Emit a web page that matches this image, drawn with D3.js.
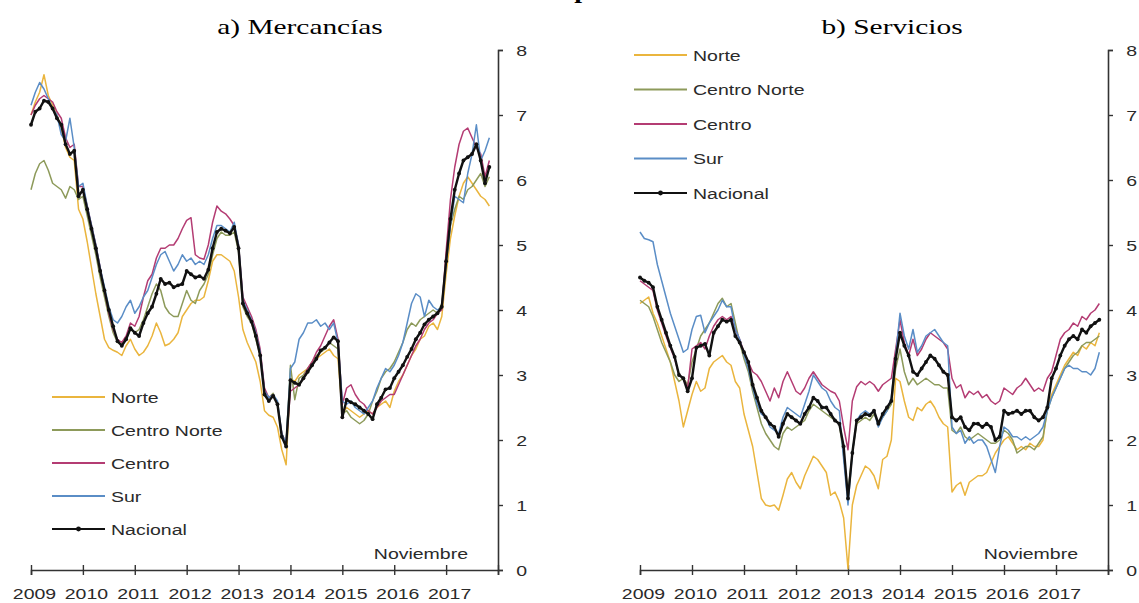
<!DOCTYPE html>
<html><head><meta charset="utf-8">
<script src="https://cdn.jsdelivr.net/npm/d3@7"></script>
<style>body{margin:0;background:#fff}</style>
</head><body>
<svg id="c" width="1139" height="603"></svg>
<script>
// ---------- data ----------
const chartTitle = "Cifras en por ciento";
const panelTitles = ["a) Mercancías", "b) Servicios"];
const noteText = "Noviembre";
const startYear = 2009;
const yearLabels = ["2009","2010","2011","2012","2013","2014","2015","2016","2017"];
const yTicks = [0,1,2,3,4,5,6,7,8];
const seriesNames = ["Norte","Centro Norte","Centro","Sur","Nacional"];

// a) Mercancías, monthly Jan 2009 - Nov 2017
const mercNorte = [
7.00,7.20,7.35,7.62,7.30,7.15,7.00,6.80,6.50,6.35,6.30,5.55,
5.40,5.05,4.65,4.25,3.90,3.55,3.42,3.38,3.35,3.30,3.45,3.55,
3.40,3.30,3.35,3.45,3.60,3.80,3.65,3.45,3.48,3.55,3.65,3.90,
4.00,4.10,4.15,4.15,4.20,4.45,4.75,4.85,4.85,4.80,4.75,4.60,
4.20,3.70,3.50,3.35,3.20,2.90,2.45,2.38,2.35,2.20,1.85,1.62,
2.95,2.90,3.00,3.05,3.10,3.15,3.25,3.30,3.35,3.40,3.30,3.25,
2.40,2.50,2.45,2.40,2.35,2.40,2.45,2.40,2.50,2.55,2.60,2.50,
2.75,2.90,3.00,3.15,3.30,3.40,3.55,3.60,3.75,3.80,3.70,3.90,
4.55,5.10,5.45,5.75,5.95,6.05,5.95,5.85,5.75,5.70,5.60];
const mercCentroNorte = [
5.85,6.10,6.25,6.30,6.15,5.95,5.90,5.85,5.72,5.90,5.85,5.70,
5.75,5.45,5.15,4.85,4.50,4.20,3.90,3.65,3.50,3.48,3.55,3.70,
3.65,3.70,3.85,4.05,4.25,4.40,4.30,4.05,3.95,3.90,3.90,4.10,
4.30,4.15,4.10,4.30,4.40,4.55,4.85,5.10,5.20,5.15,5.15,5.20,
4.90,4.05,3.90,3.80,3.55,3.30,2.75,2.65,2.72,2.55,2.05,1.92,
3.15,2.62,2.95,3.00,3.10,3.20,3.30,3.35,3.40,3.50,3.45,3.40,
2.40,2.45,2.35,2.30,2.25,2.30,2.40,2.60,2.75,2.95,3.05,3.10,
3.20,3.35,3.50,3.70,3.80,3.75,3.85,3.90,3.95,4.00,3.95,4.10,
4.75,5.30,5.55,5.75,5.70,5.85,5.90,6.00,6.10,5.90,6.05];
const mercCentro = [
7.00,7.15,7.25,7.30,7.25,7.20,7.05,6.95,6.65,6.50,6.55,5.90,
5.90,5.60,5.30,5.00,4.65,4.30,3.95,3.70,3.55,3.50,3.60,3.80,
3.75,3.90,4.20,4.45,4.55,4.80,4.95,4.95,5.00,5.00,5.10,5.25,
5.38,5.42,4.85,4.80,4.78,5.00,5.35,5.60,5.52,5.48,5.40,5.30,
5.00,4.20,4.05,3.90,3.70,3.40,2.80,2.65,2.70,2.55,2.10,1.95,
2.75,2.80,2.85,2.95,3.10,3.20,3.35,3.45,3.60,3.75,3.85,3.55,
2.55,2.80,2.85,2.70,2.60,2.55,2.45,2.40,2.50,2.60,2.65,2.70,
2.70,2.85,3.00,3.15,3.30,3.45,3.55,3.70,3.80,3.85,3.95,4.00,
4.90,5.70,6.20,6.55,6.75,6.80,6.65,6.50,6.40,6.05,6.30];
const mercSur = [
7.15,7.35,7.50,7.40,7.25,7.10,7.00,6.70,6.60,6.95,6.50,5.90,
5.95,5.60,5.30,5.00,4.65,4.35,4.05,3.85,3.80,3.90,4.05,4.15,
3.95,4.05,4.20,4.30,4.50,4.70,4.85,4.90,4.75,4.60,4.70,4.85,
4.75,4.80,4.70,4.75,4.70,4.85,5.10,5.30,5.30,5.25,5.20,5.35,
5.00,4.15,4.00,3.85,3.65,3.35,2.75,2.65,2.70,2.60,2.10,1.95,
3.10,3.20,3.55,3.65,3.80,3.80,3.85,3.75,3.80,3.70,3.80,3.50,
2.60,2.55,2.60,2.50,2.45,2.40,2.50,2.60,2.80,2.95,3.10,3.05,
3.15,3.30,3.50,3.80,4.10,4.25,4.20,3.90,4.15,4.05,4.00,4.05,
4.70,5.30,5.75,5.70,5.65,6.10,6.40,6.85,6.30,6.45,6.65];
const mercNacional = [
6.85,7.05,7.10,7.22,7.20,7.10,6.95,6.85,6.55,6.40,6.45,5.75,
5.85,5.55,5.25,4.95,4.60,4.30,4.00,3.75,3.52,3.45,3.55,3.72,
3.65,3.60,3.80,3.95,4.05,4.25,4.48,4.40,4.42,4.35,4.38,4.40,
4.60,4.55,4.50,4.52,4.48,4.62,4.95,5.20,5.25,5.22,5.18,5.28,
4.95,4.10,3.95,3.82,3.60,3.30,2.70,2.60,2.68,2.55,2.05,1.90,
2.92,2.88,2.85,2.95,3.05,3.15,3.25,3.38,3.42,3.50,3.58,3.52,
2.35,2.62,2.58,2.55,2.50,2.45,2.40,2.32,2.55,2.65,2.78,2.80,
2.95,3.05,3.15,3.28,3.40,3.55,3.65,3.78,3.85,3.90,3.95,4.05,
4.75,5.40,5.85,6.10,6.30,6.35,6.40,6.55,6.30,5.95,6.20];

// b) Servicios, monthly Jan 2009 - Nov 2017
const servNorte = [
4.10,4.15,4.20,3.95,3.80,3.60,3.40,3.20,2.90,2.60,2.20,2.45,
2.70,2.90,2.75,2.80,3.10,3.20,3.25,3.30,3.20,3.15,2.90,2.80,
2.40,2.15,1.90,1.50,1.10,1.00,0.98,1.00,0.92,1.15,1.40,1.50,
1.35,1.25,1.45,1.60,1.75,1.70,1.60,1.50,1.15,1.20,1.05,0.80,
0.02,1.00,1.30,1.45,1.60,1.55,1.45,1.25,1.70,1.75,2.00,2.95,
2.90,2.60,2.35,2.30,2.50,2.45,2.55,2.60,2.50,2.35,2.25,2.20,
1.20,1.30,1.35,1.15,1.35,1.40,1.45,1.45,1.50,1.65,1.80,1.90,
2.00,2.05,1.95,1.85,1.90,1.85,1.95,1.90,1.90,2.00,2.50,2.70,
2.85,3.00,3.15,3.25,3.35,3.30,3.45,3.40,3.50,3.45,3.65];
const servCentroNorte = [
4.15,4.10,4.05,3.90,3.70,3.50,3.35,3.20,3.00,2.90,2.95,2.85,
3.20,3.40,3.60,3.70,3.80,3.95,4.10,4.18,4.05,4.10,3.80,3.50,
3.25,3.05,2.75,2.50,2.25,2.10,2.00,1.90,1.85,2.10,2.20,2.15,
2.20,2.25,2.30,2.45,2.55,2.50,2.45,2.40,2.35,2.30,2.25,1.75,
1.20,1.80,2.25,2.30,2.35,2.30,2.40,2.25,2.35,2.45,2.55,3.10,
3.40,3.05,2.85,2.95,2.85,2.90,2.95,2.90,2.85,2.85,2.80,2.80,
2.15,2.10,2.20,2.05,2.00,2.05,2.10,2.05,2.00,1.95,1.95,2.00,
2.15,2.10,2.00,1.80,1.85,1.90,1.90,1.85,1.95,2.05,2.45,2.65,
2.80,2.95,3.10,3.20,3.30,3.35,3.45,3.50,3.50,3.55,3.60];
const servCentro = [
4.45,4.40,4.35,4.30,4.00,3.80,3.60,3.42,3.25,3.00,2.95,2.80,
3.40,3.45,3.50,3.40,3.60,3.75,3.85,3.90,3.85,3.90,3.70,3.55,
3.35,3.20,3.05,3.00,2.90,2.75,2.60,2.80,2.65,2.90,3.05,2.90,
2.75,2.70,2.80,2.95,3.05,2.95,2.85,2.80,2.75,2.72,2.60,2.20,
1.85,2.60,2.82,2.90,2.85,2.90,2.85,2.75,2.85,2.90,2.95,3.40,
3.85,3.50,3.30,3.55,3.30,3.40,3.55,3.65,3.60,3.55,3.50,3.40,
2.95,2.80,2.85,2.65,2.75,2.70,2.75,2.65,2.70,2.60,2.55,2.60,
2.80,2.75,2.70,2.80,2.85,2.95,2.85,2.75,2.80,2.75,2.95,3.05,
3.30,3.55,3.65,3.70,3.80,3.75,3.90,3.85,3.95,4.00,4.10];
const servSur = [
5.20,5.10,5.08,5.05,4.70,4.45,4.20,3.95,3.75,3.55,3.35,3.40,
3.70,3.90,3.92,3.65,3.80,3.90,4.00,4.15,4.05,4.05,3.70,3.55,
3.30,3.10,2.80,2.55,2.40,2.35,2.20,2.15,2.10,2.35,2.50,2.45,
2.40,2.35,2.55,2.75,3.00,2.90,2.80,2.75,2.60,2.50,2.45,1.70,
1.00,1.80,2.30,2.40,2.45,2.40,2.45,2.20,2.35,2.45,2.65,3.30,
3.95,3.60,3.40,3.70,3.35,3.45,3.60,3.65,3.70,3.60,3.50,3.45,
2.20,2.10,2.15,1.95,2.05,1.95,2.00,2.00,1.90,1.70,1.50,1.90,
2.20,2.15,2.05,2.05,2.00,2.05,2.00,2.05,2.10,2.20,2.45,2.65,
2.80,2.95,3.10,3.15,3.10,3.10,3.05,3.05,3.00,3.10,3.35];
const servNacional = [
4.50,4.45,4.42,4.35,4.05,3.85,3.65,3.45,3.28,3.00,2.95,2.75,
2.95,3.42,3.45,3.48,3.30,3.65,3.75,3.85,3.82,3.85,3.60,3.50,
3.35,3.20,2.85,2.65,2.45,2.35,2.25,2.20,2.05,2.25,2.40,2.35,
2.30,2.25,2.40,2.50,2.65,2.60,2.50,2.50,2.40,2.30,2.25,1.90,
1.10,1.80,2.30,2.35,2.40,2.38,2.45,2.25,2.40,2.50,2.60,3.25,
3.65,3.45,3.30,3.05,3.00,3.10,3.20,3.30,3.25,3.15,3.05,3.00,
2.35,2.30,2.35,2.20,2.15,2.25,2.25,2.20,2.25,2.20,2.00,2.05,
2.45,2.40,2.42,2.45,2.40,2.45,2.45,2.35,2.30,2.35,2.50,2.95,
3.10,3.30,3.45,3.55,3.60,3.55,3.70,3.65,3.75,3.80,3.85];

const mercSeries = [mercNorte, mercCentroNorte, mercCentro, mercSur, mercNacional];
const servSeries = [servNorte, servCentroNorte, servCentro, servSur, servNacional];

// ---------- styling ----------
const colors = ["#EAB53E", "#8D9A5A", "#B43C73", "#5A8DC6", "#111111"];
const SANS = "'Liberation Sans', Arial, sans-serif";
const SERIF = "'Liberation Serif', 'Times New Roman', serif";
const SX = 1.3;       // horizontal stretch of sans text in the reference
const SXT = 1.4;      // horizontal stretch of serif titles

const svg = d3.select("#c");

function stretchedText(g, x, y, str, o) {
  return g.append("text")
    .attr("transform", `translate(${x},${y}) scale(${o.sx},1)`)
    .attr("text-anchor", o.anchor || "start")
    .attr("font-family", o.family)
    .attr("font-size", o.size)
    .attr("font-weight", o.weight || "normal")
    .attr("fill", o.fill || "#000")
    .text(str);
}

// overall title (only its lower edge shows at the top of the reference)
stretchedText(svg, 576, -2.5, chartTitle, {sx: SXT, anchor: "middle", family: SERIF, size: 20, weight: "bold"});

const panels = [
  {series: mercSeries, title: panelTitles[0], titleX: 300, left: 31, right: 498,
   legX: 52, legY: 397, legDy: 33},
  {series: servSeries, title: panelTitles[1], titleX: 892, left: 640, right: 1108,
   legX: 634, legY: 55, legDy: 34.5}
];
const plotTop = 50, plotBottom = 570;
const nMonthsAxis = yearLabels.length * 12;

panels.forEach(p => {
  const g = svg.append("g");
  const x = d3.scaleLinear().domain([0, nMonthsAxis]).range([p.left, p.right]);
  const y = d3.scaleLinear().domain([0, 8]).range([plotBottom, plotTop]);

  // panel title
  stretchedText(g, p.titleX, 34, p.title, {sx: SXT, anchor: "middle", family: SERIF, size: 21});

  // x axis
  const tickVals = d3.range(0, nMonthsAxis + 1, 12);
  const xAxis = d3.axisBottom(x).tickValues(tickVals)
    .tickSize(5)
    .tickFormat((d, i) => yearLabels[i] || "");
  const xg = g.append("g").attr("transform", `translate(0,${plotBottom})`).call(xAxis);
  xg.select(".domain").attr("stroke", "#333").attr("stroke-width", 1.6);
  xg.selectAll(".tick line").attr("y1", -5).attr("y2", 5).attr("stroke", "#333").attr("stroke-width", 1.4);
  xg.selectAll(".tick text")
    .attr("y", 29).attr("dy", 0).attr("x", 3 / SX)
    .attr("transform", `scale(${SX},1)`)
    .attr("font-family", SANS).attr("font-size", 15).attr("fill", "#2a2a2a");

  // y axis on the right
  const yAxis = d3.axisRight(y).tickValues(yTicks).tickSize(5).tickFormat(d3.format("d"));
  const yg = g.append("g").attr("transform", `translate(${p.right},0)`).call(yAxis);
  yg.select(".domain").attr("stroke", "#333").attr("stroke-width", 1.6);
  yg.selectAll(".tick line").attr("stroke", "#333").attr("stroke-width", 1.4);
  yg.selectAll(".tick text")
    .attr("x", 14).attr("dy", "0.36em")
    .attr("transform", `scale(${SX},1)`)
    .attr("font-family", SANS).attr("font-size", 15).attr("fill", "#2a2a2a");

  // lines
  const line = d3.line().x((d, i) => x(i)).y(d => y(d));
  p.series.forEach((vals, k) => {
    const isNat = k === 4;
    g.append("path").datum(vals)
      .attr("fill", "none")
      .attr("stroke", colors[k])
      .attr("stroke-width", isNat ? 2.4 : 1.5)
      .attr("stroke-linejoin", "round")
      .attr("d", line);
    if (isNat) {
      g.append("g").selectAll("circle").data(vals).join("circle")
        .attr("cx", (d, i) => x(i)).attr("cy", d => y(d))
        .attr("r", 1.9).attr("fill", colors[k]);
    }
  });

  // legend
  seriesNames.forEach((name, k) => {
    const ly = p.legY + k * p.legDy;
    g.append("line")
      .attr("x1", p.legX).attr("x2", p.legX + 53)
      .attr("y1", ly).attr("y2", ly)
      .attr("stroke", colors[k]).attr("stroke-width", k === 4 ? 2.2 : 1.8);
    if (k === 4) {
      g.append("circle").attr("cx", p.legX + 26.5).attr("cy", ly).attr("r", 2.4).attr("fill", colors[k]);
    }
    stretchedText(g, p.legX + 59, ly + 5.5, name, {sx: SX, family: SANS, size: 15, fill: "#2a2a2a"});
  });

  // note
  stretchedText(g, p.right - 30, 559, noteText, {sx: SX, anchor: "end", family: SANS, size: 15, fill: "#2a2a2a"});
});
</script>
</body></html>
